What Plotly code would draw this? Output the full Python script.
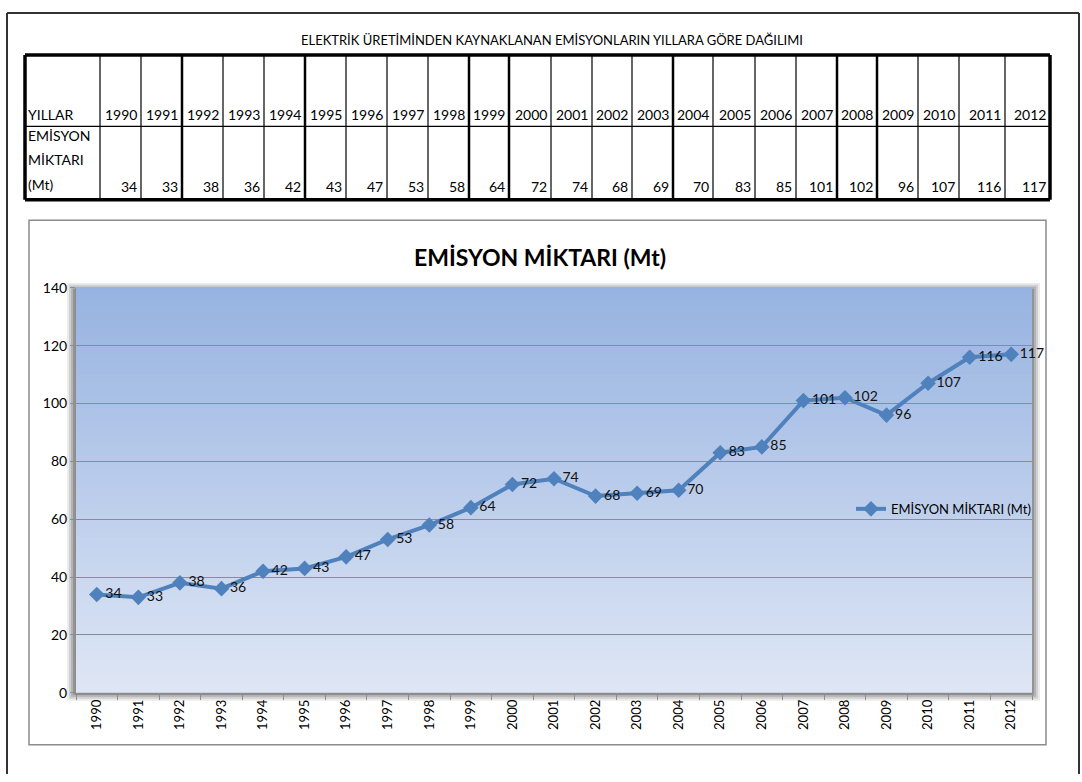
import plotly.graph_objects as go

YEARS = [str(y) for y in range(1990, 2013)]
EMISSIONS = [34, 33, 38, 36, 42, 43, 47, 53, 58, 64, 72, 74, 68, 69, 70, 83, 85, 101, 102, 96, 107, 116, 117]

TABLE_TITLE = "ELEKTRİK ÜRETİMİNDEN KAYNAKLANAN EMİSYONLARIN YILLARA GÖRE DAĞILIMI"
ROW1_LABEL = "YILLAR"
ROW2_LABEL = ["EMİSYON", "MİKTARI", "(Mt)"]
CHART_TITLE = "EMİSYON MİKTARI (Mt)"
SERIES_NAME = "EMİSYON MİKTARI (Mt)"

W, H = 1082, 782
FONT = "Lato, Open Sans, sans-serif"
BLUE = "#4F81BD"


def fx(x):
    return x / W


def fy(y):
    return 1 - y / H


# table geometry (pixels)
COL_EDGES = [25, 100, 141, 182, 223, 264, 305, 346, 387, 428, 469, 509, 551, 592,
             632, 673, 713, 755, 796, 837, 877, 918, 959, 1005, 1050]
THICK = {182, 305, 469, 509, 673, 837, 877}
T_TOP, T_MID, T_BOT = 47, 120, 195

# plot area
PL, PR, PT, PB = 76, 1032, 285, 699

shapes = []
annotations = []


def note(text, x, y, size=14, xanchor="center", bold=False):
    annotations.append(dict(
        text="<b>%s</b>" % text if bold else text, x=fx(x), y=fy(y),
        xref="paper", yref="paper", xanchor=xanchor, yanchor="middle",
        showarrow=False, font=dict(size=size, color="black", family=FONT),
    ))


# outer page frame
for x0, y0, x1, y1 in [(7, 4, 1079, 4), (7, 4, 7, 782), (1079, 4, 1079, 782)]:
    shapes.append(dict(type="line", xref="paper", yref="paper", x0=fx(x0), y0=fy(y0),
                       x1=fx(x1), y1=fy(y1), line=dict(color="#333333", width=2)))

# table borders
for i, x in enumerate(COL_EDGES):
    w = 3.5 if i in (0, len(COL_EDGES) - 1) else (2.5 if x in THICK else 1.2)
    shapes.append(dict(type="line", xref="paper", yref="paper", x0=fx(x), x1=fx(x),
                       y0=fy(T_TOP), y1=fy(T_BOT), line=dict(color="black", width=w)))
for y, w in [(T_TOP, 3.5), (T_MID, 1.2), (T_BOT, 3.5)]:
    shapes.append(dict(type="line", xref="paper", yref="paper", x0=fx(COL_EDGES[0]),
                       x1=fx(COL_EDGES[-1]), y0=fy(y), y1=fy(y),
                       line=dict(color="black", width=w)))

note(TABLE_TITLE, 552, 32, size=13)
note(ROW1_LABEL, 26, 108, xanchor="left")
for j, line in enumerate(ROW2_LABEL):
    note(line, 26, 129 + j * 25, xanchor="left")
for i, (yr, v) in enumerate(zip(YEARS, EMISSIONS)):
    right = COL_EDGES[i + 2] - 2
    note(yr, right, 108, xanchor="right")
    note(str(v), right, 181, xanchor="right")

note(CHART_TITLE, 540, 253, size=23, bold=True)

# chart box
shapes.append(dict(type="rect", xref="paper", yref="paper", x0=fx(29), x1=fx(1046),
                   y0=fy(752), y1=fy(216), line=dict(color="#8c8c8c", width=1.5),
                   fillcolor="white", layer="below"))

# plot area shadow
for k, op in enumerate([0.12, 0.18, 0.25, 0.35]):
    d = 8 - 2 * k
    shapes.append(dict(type="rect", xref="paper", yref="paper", x0=fx(PL - d - 1), x1=fx(PR + d),
                       y0=fy(PB + d), y1=fy(PT - d + 3), line=dict(width=0),
                       fillcolor=f"rgba(90,90,90,{op})", layer="below"))

# gradient plot background
top = (151, 179, 225)
bot = (222, 230, 245)
n = 60
for k in range(n):
    t = k / (n - 1)
    c = tuple(round(top[i] + (bot[i] - top[i]) * t) for i in range(3))
    shapes.append(dict(type="rect", xref="x domain", yref="y domain", x0=0, x1=1,
                       y0=1 - (k + 1) / n, y1=1 - k / n + 0.002, line=dict(width=0),
                       fillcolor="rgb(%d,%d,%d)" % c, layer="below"))

fig = go.Figure()
fig.add_trace(go.Scatter(
    x=YEARS, y=EMISSIONS, mode="lines+markers+text", name=SERIES_NAME,
    text=[str(v) for v in EMISSIONS], textposition="middle right",
    textfont=dict(size=14, color="#111111", family=FONT),
    line=dict(color=BLUE, width=4),
    marker=dict(symbol="diamond", size=12, color=BLUE),
    cliponaxis=False,
))

fig.update_layout(
    width=W, height=H,
    margin=dict(l=0, r=0, t=0, b=0),
    paper_bgcolor="white",
    plot_bgcolor="rgba(0,0,0,0)",
    font=dict(family=FONT, color="black"),
    showlegend=True,
    legend=dict(x=fx(1036), y=fy(511), xanchor="right", yanchor="middle",
                bgcolor="rgba(0,0,0,0)", font=dict(size=13, family=FONT),
                itemwidth=30),
    shapes=shapes,
    annotations=annotations,
    xaxis=dict(domain=[fx(PL), fx(PR)], type="category", range=[-0.5, len(YEARS) - 0.5],
               tickangle=-90, tickson="boundaries", ticks="outside", ticklen=5,
               tickcolor="#8c8c8c", showline=True, linecolor="#8c8c8c", linewidth=1.5,
               showgrid=False, tickfont=dict(size=13, family=FONT)),
    yaxis=dict(domain=[fy(PB), fy(PT)], range=[0, 140], dtick=20, ticks="outside",
               ticklen=5, tickcolor="#8c8c8c", showline=True, linecolor="#8c8c8c",
               gridcolor="#8c8c8c", gridwidth=1, zeroline=False,
               tickfont=dict(size=14, family=FONT)),
)

fig.write_html(
    "out.html",
    config={"displayModeBar": False},
    post_script="document.documentElement.style.margin='0';document.body.style.margin='0';",
)
